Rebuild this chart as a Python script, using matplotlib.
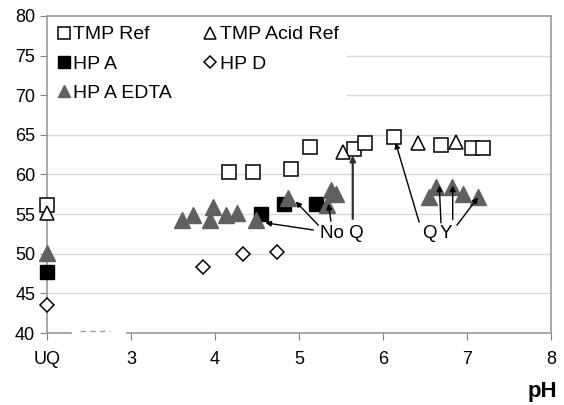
import matplotlib
matplotlib.use("Agg")
import matplotlib.pyplot as plt

# Data (x = pH, UQ plotted at x=2)
tmp_ref_x = [2.0, 4.17, 4.45, 4.90, 5.13, 5.65, 5.79, 6.13, 6.69, 7.06, 7.19]
tmp_ref_y = [56.2, 60.3, 60.3, 60.7, 63.5, 63.2, 64.0, 64.7, 63.7, 63.4, 63.4]
tmp_acid_x = [2.0, 5.52, 6.42, 6.87]
tmp_acid_y = [55.2, 62.8, 64.0, 64.1]
hpa_x = [2.0, 4.55, 4.82, 5.20]
hpa_y = [47.7, 55.0, 56.3, 56.3]
hpd_x = [2.0, 3.86, 4.33, 4.74]
hpd_y = [43.5, 48.3, 50.0, 50.2]
edta_x = [2.0, 3.61, 3.74, 3.94, 3.98, 4.13, 4.26, 4.49, 4.87, 5.33, 5.38, 5.44,
          6.55, 6.63, 6.82, 6.95, 7.13]
edta_y = [50.1, 54.3, 54.9, 54.3, 55.9, 54.9, 55.1, 54.3, 57.0, 56.2, 58.1, 57.5,
          57.2, 58.4, 58.4, 57.5, 57.2]
xticks = [2, 3, 4, 5, 6, 7, 8]
xticklabels = ["UQ", "3", "4", "5", "6", "7", "8"]
yticks = [40, 45, 50, 55, 60, 65, 70, 75, 80]

plt.rcParams['font.family'] = ['Liberation Sans', 'DejaVu Sans']
fig = plt.figure(figsize=(5.64, 4.05), dpi=100)
ax = fig.add_axes([47/564, 1-333/405, (551-47)/564, (333-16)/405])
ax.set_xlim(2, 8)
ax.set_ylim(40, 80)
ax.set_xticks(xticks)
ax.set_xticklabels(xticklabels)
ax.set_yticks(yticks)
ax.tick_params(labelsize=13, colors='#808080', labelcolor='black', length=5)
ax.tick_params(axis='x', pad=8)
for g in [45, 50, 55, 60, 65, 70, 75]:
    ax.axhline(g, color='#d9d9d9', lw=1, zorder=0)
for s in ['top', 'right', 'left']:
    ax.spines[s].set_color('#999999')
    ax.spines[s].set_linewidth(1.2)
ax.spines['bottom'].set_visible(False)
# broken x axis
ax.plot([2.0, 2.29], [40, 40], color='#999999', lw=1.2, clip_on=False, zorder=1)
ax.plot([2.39, 2.75], [40.3, 40.3], color='#999999', lw=1, ls=(0, (4, 3)), clip_on=False, zorder=1)
ax.plot([2.95, 8.0], [40, 40], color='#999999', lw=1.2, clip_on=False, zorder=1)

ms = 10
h_ref, = ax.plot(tmp_ref_x, tmp_ref_y, 's', ms=ms, mfc='white', mec='black', mew=1.1, label='TMP Ref', clip_on=False, zorder=3)
h_acid, = ax.plot(tmp_acid_x, tmp_acid_y, '^', ms=ms, mfc='white', mec='black', mew=1.1, label='TMP Acid Ref', clip_on=False, zorder=3)
h_hpa, = ax.plot(hpa_x, hpa_y, 's', ms=ms, mfc='black', mec='black', label='HP A', clip_on=False, zorder=3)
h_hpd, = ax.plot(hpd_x, hpd_y, 'D', ms=7, mfc='white', mec='black', mew=1.1, label='HP D', clip_on=False, zorder=3)
h_edta, = ax.plot(edta_x, edta_y, '^', ms=ms + 1, mfc='#606060', mec='#606060', label='HP A EDTA', clip_on=False, zorder=4)

ap = dict(arrowstyle='-|>', color='black', lw=1.0, mutation_scale=8, shrinkA=0, shrinkB=0)
ax.text(5.51, 52.6, 'No Q', fontsize=13.5, ha='center', va='center')
for tx, ty, hx, hy in [(5.17, 53.0, 4.60, 53.9), (5.23, 53.6, 4.96, 56.6), (5.38, 54.1, 5.35, 56.3)]:
    ax.annotate('', xy=(hx, hy), xytext=(tx, ty), arrowprops=ap, zorder=5)
ax.annotate('', xy=(5.64, 62.4), xytext=(5.64, 54.4),
            arrowprops=dict(ap, lw=1.6, color='#303030'), zorder=5)
ax.text(6.55, 52.6, 'Q', fontsize=13.5, ha='center', va='center')
ax.text(6.75, 52.6, 'Y', fontsize=13.5, ha='center', va='center')
for tx, ty, hx, hy in [(6.43, 54.0, 6.15, 64.0), (6.69, 53.9, 6.67, 58.6), (6.83, 54.3, 6.83, 58.6),
                       (6.88, 53.6, 7.13, 57.1)]:
    ax.annotate('', xy=(hx, hy), xytext=(tx, ty), arrowprops=ap, zorder=5)

fig.text(542/564, 1-392/405, 'pH', fontsize=16, fontweight='bold', ha='center', va='center')

handles = [h_ref, h_hpa, h_edta, h_acid, h_hpd]
labels = [h.get_label() for h in handles]
leg = ax.legend(handles, labels, ncol=2, loc='upper left', bbox_to_anchor=(0.0, 1.0), fontsize=14,
                frameon=True, facecolor='white', edgecolor='none', framealpha=1, fancybox=False,
                handlelength=0.7, handletextpad=0.15, columnspacing=1.6, labelspacing=0.6,
                markerscale=0.85, borderpad=0.45, borderaxespad=0.05)
leg.set_zorder(6)

fig.savefig('out.png', dpi=100)
